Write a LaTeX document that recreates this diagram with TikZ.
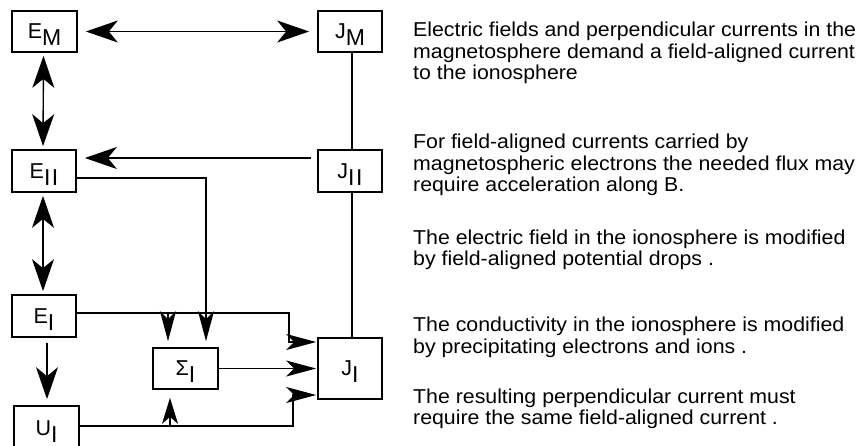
\documentclass[tikz,border=0pt]{standalone}
\usepackage{fontspec}
\setmainfont{Liberation Sans}
\newfontfamily\reffont[FakeStretch=1.06]{Liberation Sans}
\usetikzlibrary{arrows.meta}
\newcommand\boxlab[2]{#1\raisebox{-7pt}{\fontsize{23}{23}\selectfont #2}}
\begin{document}
\begin{tikzpicture}[x=1pt,y=-1pt,
  box/.style={draw, line width=1.7pt, inner sep=0pt, text depth=0pt, font=\fontsize{21.5}{21.5}\selectfont},
  conn/.style={line width=1.4pt},
  thick conn/.style={line width=2pt},
  big/.tip={Stealth[length=32pt,width=22pt,inset=9pt]},
  small/.tip={Stealth[length=30pt,width=16pt,inset=8pt]},
  short/.tip={Stealth[length=26pt,width=16pt,inset=7pt]},
  txt/.style={anchor=base west, inner sep=0pt, font=\reffont\fontsize{20.1}{21.7}\selectfont}]
\useasboundingbox (0,0) rectangle (862,445);
% boxes
\node[box, minimum width=65pt, minimum height=41pt] (EM)  at (44.5,31.5) {\boxlab{E}{M}};
\node[box, minimum width=64pt, minimum height=41pt] (JM)  at (350,31.5)  {\boxlab{J}{M}};
\node[box, minimum width=64pt, minimum height=42pt] (EII) at (44,171)    {\boxlab{E}{I\kern1.5pt I}};
\node[box, minimum width=64pt, minimum height=42pt] (JII) at (350,171)   {\boxlab{J}{I\kern1.5pt I}};
\node[box, minimum width=64pt, minimum height=42pt] (EI)  at (44,316)    {\boxlab{E}{I}};
\node[box, minimum width=65pt, minimum height=41pt] (SI)  at (185.5,368.5) {\boxlab{Σ}{I}};
\node[box, minimum width=64pt, minimum height=61pt] (JI)  at (350,368.5) {\boxlab{J}{I}};
\node[box, minimum width=65pt, minimum height=44pt] (UI)  at (46.5,428)  {\boxlab{U}{I}};
% helper coordinates
\coordinate (brE) at (168,313);
\coordinate (brU) at (170,426);
\coordinate (cE1) at (289,313);
\coordinate (cE2) at (289,342);
\coordinate (cU1) at (293,426);
\coordinate (cU2) at (293,395);
% connectors
\draw[conn, big-big, shorten <=8pt, shorten >=8pt] (EM.east) -- (JM.west);
\draw[conn] ([xshift=2pt]JM.south) -- ([xshift=2pt]JII.north);
\draw[conn, big-big, shorten <=3pt, shorten >=3pt] ([xshift=-1pt]EM.south) -- ([xshift=-1pt]EII.north);
\draw[thick conn, -big, shorten <=6pt, shorten >=8pt] ([yshift=13pt]JII.west) -- ([yshift=13pt]EII.east);
\draw[thick conn, -small, shorten >=6pt] ([yshift=-7pt]EII.east) -| ([xshift=20.5pt]SI.north);
\draw[conn, big-big, shorten <=3pt, shorten >=3pt] ([xshift=-1pt]EII.south) -- ([xshift=-1pt]EI.north);
\draw[conn] ([xshift=2pt]JII.south) -- ([xshift=2pt]JI.north);
\draw[conn, -small, shorten >=1pt] ([yshift=3pt]EI.east) -- (cE1) -- (cE2) -- ([yshift=26.5pt]JI.west);
\draw[conn, -small, shorten >=6pt] (brE) -- ([xshift=-17.5pt]SI.north);
\draw[conn, -small, shorten >=1pt] (SI.east) -- (JI.west);
\draw[conn, -small, shorten >=1pt] ([yshift=2pt]UI.east) -- (cU1) -- (cU2) -- ([yshift=-26.5pt]JI.west);
\draw[conn, -short, shorten >=8pt] (brU) -- ([xshift=-15.5pt]SI.south);
\draw[conn, -big, shorten <=5pt, shorten >=6pt] ([xshift=3pt]EI.south) -- ([xshift=0.5pt]UI.north);
% text
\node[txt] (t1)  at (413,36.5)  {Electric fields and perpendicular currents in the};
\node[txt] (t2)  at (413,58.2)  {magnetosphere demand a field-aligned current};
\node[txt] (t3)  at (413,79.9)  {to the ionosphere};
\node[txt] (t4)  at (413,148.5) {For field-aligned currents carried by};
\node[txt] (t5)  at (413,170.2) {magnetospheric electrons the needed flux may};
\node[txt] (t6)  at (413,191.9) {require acceleration along B.};
\node[txt] (t7)  at (413,244)   {The electric field in the ionosphere is modified};
\node[txt] (t8)  at (413,265.7) {by field-aligned potential drops .};
\node[txt] (t9)  at (413,331.5) {The conductivity in the ionosphere is modified};
\node[txt] (t10) at (413,353.2) {by precipitating electrons and ions .};
\node[txt] (t11) at (413,403)   {The resulting perpendicular current must};
\node[txt] (t12) at (413,424.7) {require the same field-aligned current .};
\end{tikzpicture}
\end{document}
